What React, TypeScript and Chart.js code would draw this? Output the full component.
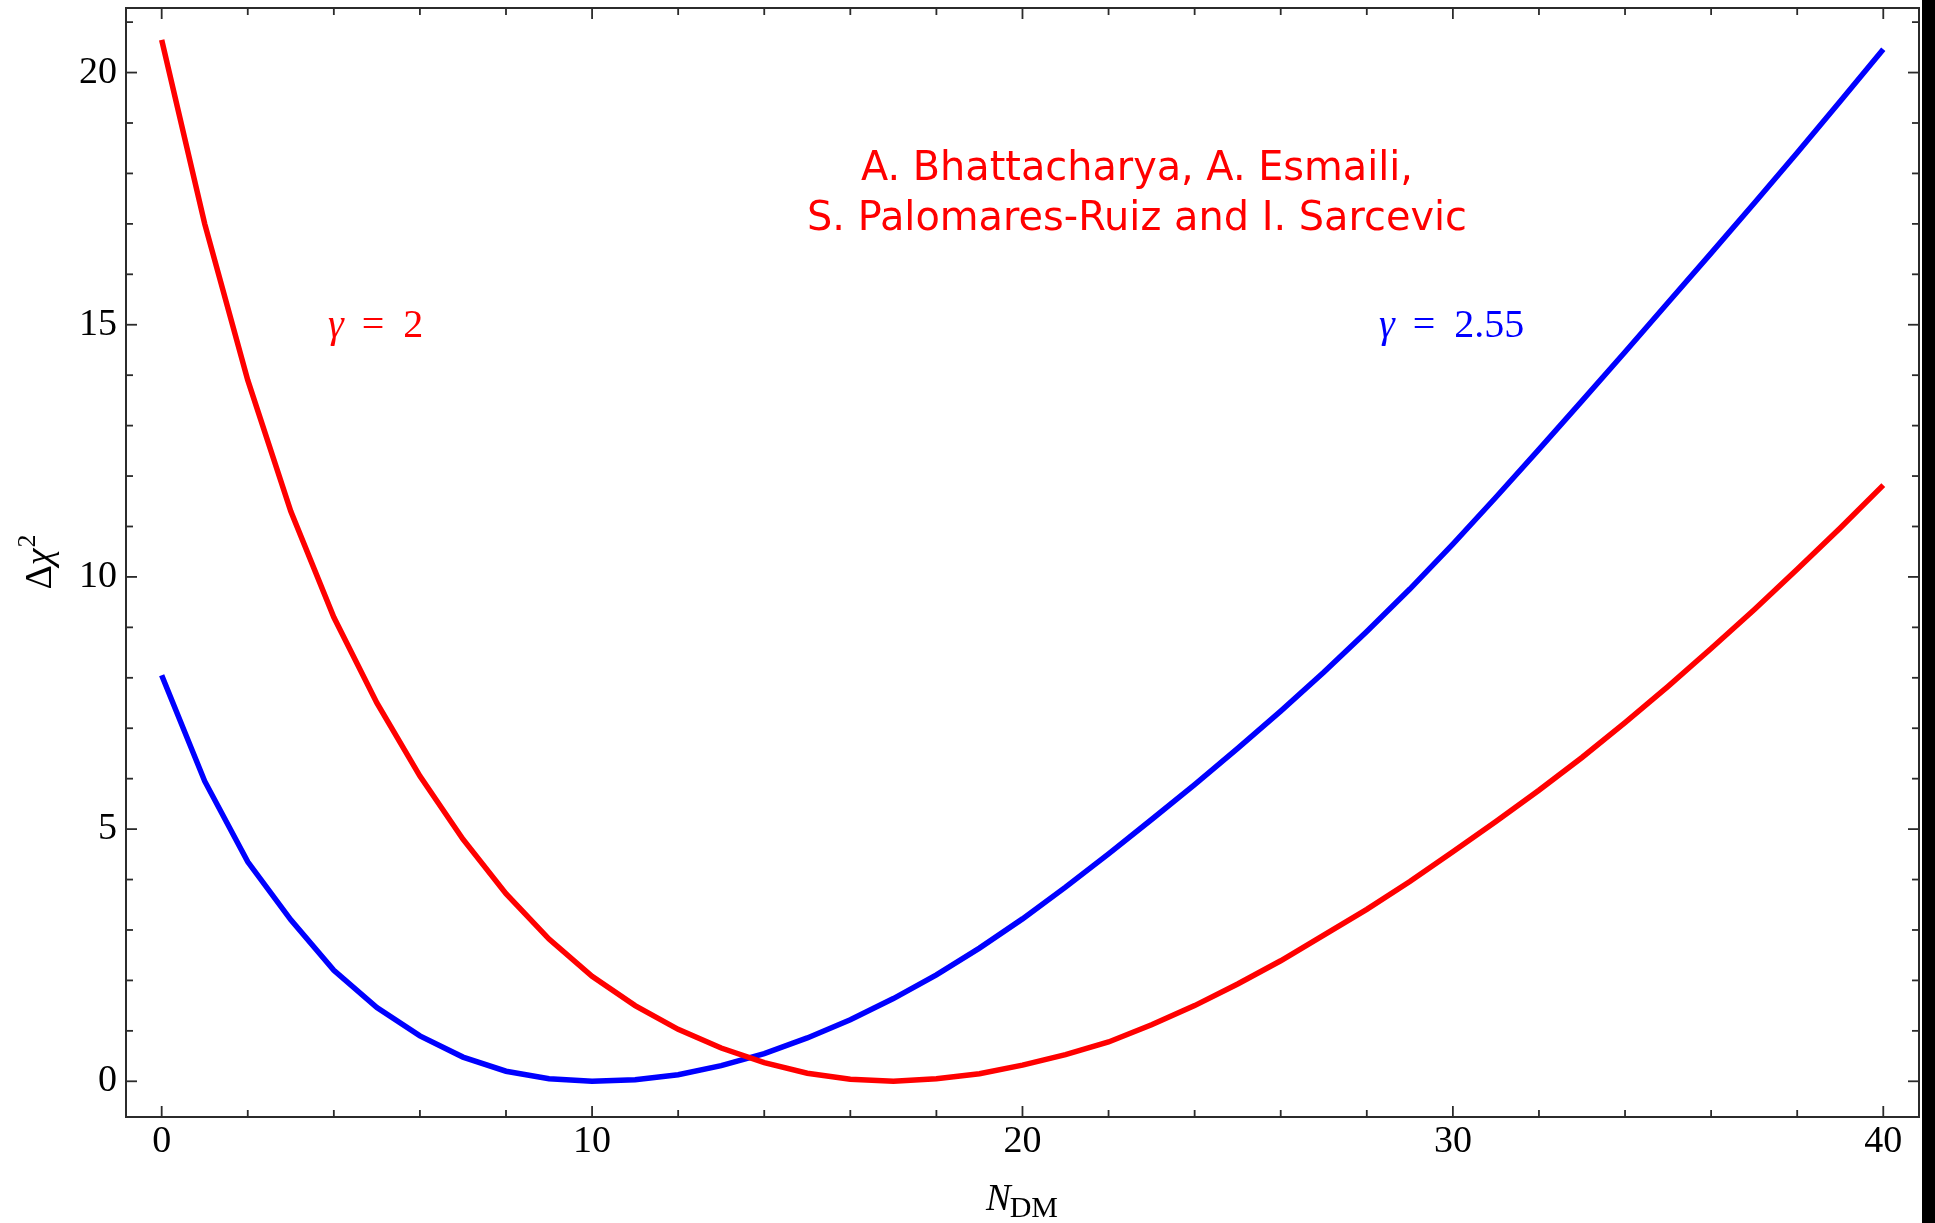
import { useEffect, useRef } from "react";
import { Chart, registerables } from "chart.js";

Chart.register(...registerables);

// Number of dark-matter events
const nDM = [
  0, 1, 2, 3, 4, 5, 6, 7, 8, 9, 10, 11, 12, 13, 14, 15, 16, 17, 18, 19, 20,
  21, 22, 23, 24, 25, 26, 27, 28, 29, 30, 31, 32, 33, 34, 35, 36, 37, 38, 39, 40,
];

// Δχ² for spectral index γ = 2
const chi2Gamma2 = [
  20.65, 17.0, 13.9, 11.3, 9.2, 7.5, 6.05, 4.8, 3.72, 2.82, 2.08, 1.5, 1.03,
  0.66, 0.37, 0.16, 0.04, 0.0, 0.05, 0.15, 0.32, 0.53, 0.78, 1.12, 1.5, 1.93,
  2.39, 2.9, 3.41, 3.96, 4.55, 5.15, 5.77, 6.42, 7.11, 7.83, 8.58, 9.35, 10.15,
  10.97, 11.82,
];

// Δχ² for spectral index γ = 2.55
const chi2Gamma255 = [
  8.05, 5.95, 4.35, 3.2, 2.2, 1.46, 0.9, 0.48, 0.2, 0.05, 0.0, 0.03, 0.13, 0.31,
  0.55, 0.86, 1.22, 1.64, 2.11, 2.64, 3.22, 3.85, 4.51, 5.19, 5.88, 6.6, 7.34,
  8.11, 8.92, 9.76, 10.65, 11.58, 12.53, 13.49, 14.46, 15.44, 16.42, 17.41,
  18.41, 19.43, 20.46,
];

const xTickLabels = [0, 10, 20, 30, 40];
const yTickLabels = [0, 5, 10, 15, 20];
const authorLines = ["A. Bhattacharya, A. Esmaili,", "S. Palomares-Ruiz and I. Sarcevic"];
const gammaValues = ["2", "2.55"];

const RED = "#ff0000";
const BLUE = "#0000ff";
const SERIF = '"Liberation Serif"';
const HAND = '"DejaVu Sans"';

const framePlugin = {
  id: "mmaFrame",
  afterDraw(chart: any) {
    const { ctx, chartArea: a, scales } = chart;
    const xs = scales.x;
    const ys = scales.y;
    ctx.save();

    // frame
    ctx.strokeStyle = "#2b2b2b";
    ctx.lineWidth = 2;
    ctx.strokeRect(a.left, a.top, a.right - a.left, a.bottom - a.top);

    const seg = (x1: number, y1: number, x2: number, y2: number) => {
      ctx.beginPath();
      ctx.moveTo(x1, y1);
      ctx.lineTo(x2, y2);
      ctx.stroke();
    };

    // ticks on all four sides, pointing inward
    ctx.lineWidth = 1.8;
    for (let n = 0; n <= 40; n += 2) {
      const px = xs.getPixelForValue(n);
      const len = xTickLabels.includes(n) ? 11 : 7;
      seg(px, a.bottom, px, a.bottom - len);
      seg(px, a.top, px, a.top + len);
    }
    for (let v = 0; v <= 21; v += 1) {
      const py = ys.getPixelForValue(v);
      const len = yTickLabels.includes(v) ? 11 : 7;
      seg(a.left, py, a.left + len, py);
      seg(a.right, py, a.right - len, py);
    }

    // x-axis title: N_DM
    ctx.fillStyle = "#000";
    ctx.textBaseline = "alphabetic";
    ctx.textAlign = "left";
    ctx.font = `italic 37px ${SERIF}`;
    const wN = ctx.measureText("N").width;
    ctx.font = `30px ${SERIF}`;
    const wDM = ctx.measureText("DM").width;
    const cx = (a.left + a.right) / 2;
    const x0 = cx - (wN + wDM) / 2;
    ctx.font = `italic 37px ${SERIF}`;
    ctx.fillText("N", x0, 1210);
    ctx.font = `30px ${SERIF}`;
    ctx.fillText("DM", x0 + wN - 1, 1217);

    // y-axis title: Δχ²
    ctx.save();
    ctx.translate(51, (a.top + a.bottom) / 2);
    ctx.rotate(-Math.PI / 2);
    ctx.font = `38px ${SERIF}`;
    const wD = ctx.measureText("Δ").width;
    ctx.font = `italic 38px ${SERIF}`;
    const wC = ctx.measureText("χ").width;
    ctx.font = `26px ${SERIF}`;
    const w2 = ctx.measureText("2").width;
    const t = -(wD + wC + w2) / 2;
    ctx.font = `38px ${SERIF}`;
    ctx.fillText("Δ", t, 0);
    ctx.font = `italic 38px ${SERIF}`;
    ctx.fillText("χ", t + wD, 0);
    ctx.font = `26px ${SERIF}`;
    ctx.fillText("2", t + wD + wC + 1, -16);
    ctx.restore();

    // curve labels: italic γ, wide-spaced "=" and the value
    const gammaLabel = (text: string, x: number, y: number, color: string) => {
      ctx.fillStyle = color;
      ctx.font = `italic 40px ${SERIF}`;
      ctx.fillText("γ", x, y);
      let px = x + ctx.measureText("γ").width + 18;
      ctx.font = `40px ${SERIF}`;
      ctx.fillText("=", px, y);
      px += ctx.measureText("=").width + 19;
      ctx.fillText(text, px, y);
    };
    gammaLabel(gammaValues[0], 328, 337, RED);
    gammaLabel(gammaValues[1], 1379, 337, BLUE);

    // author credit
    ctx.fillStyle = RED;
    ctx.font = `41px ${HAND}`;
    ctx.textAlign = "center";
    const targets = [552, 660];
    const baselines = [180, 230];
    authorLines.forEach((line, i) => {
      const w = ctx.measureText(line).width;
      const sx = targets[i] / w;
      ctx.save();
      ctx.translate(1137, baselines[i]);
      ctx.scale(sx, 1);
      ctx.fillText(line, 0, 0);
      ctx.restore();
    });

    // dark strip along the right edge
    ctx.fillStyle = "#000";
    ctx.fillRect(1922, 0, chart.width - 1922, chart.height);

    ctx.restore();
  },
};

export default function App() {
  const canvasRef = useRef<HTMLCanvasElement | null>(null);

  useEffect(() => {
    const canvas = canvasRef.current;
    if (!canvas) return;
    let chart: Chart | null = null;
    let cancelled = false;

    const build = () => {
      if (cancelled) return;
      chart = new Chart(canvas, {
        type: "line",
        data: {
          datasets: [
            {
              label: "γ = 2",
              data: nDM.map((n, i) => ({ x: n, y: chi2Gamma2[i] })),
              borderColor: RED,
              borderWidth: 5.5,
              pointRadius: 0,
              tension: 0,
              fill: false,
            },
            {
              label: "γ = 2.55",
              data: nDM.map((n, i) => ({ x: n, y: chi2Gamma255[i] })),
              borderColor: BLUE,
              borderWidth: 5.5,
              pointRadius: 0,
              tension: 0,
              fill: false,
            },
          ],
        },
        options: {
          animation: false,
          responsive: false,
          devicePixelRatio: 1,
          layout: { padding: { top: 8, right: 16, left: 0, bottom: 0 } },
          plugins: {
            legend: { display: false },
            tooltip: { enabled: false },
          },
          scales: {
            x: {
              type: "linear",
              min: -0.829,
              max: 40.83,
              grid: { display: false, drawTicks: false },
              border: { display: false },
              afterBuildTicks: (s: any) => {
                s.ticks = xTickLabels.map((v) => ({ value: v }));
              },
              afterFit: (s: any) => {
                s.height = 106;
                s.paddingLeft = 0;
                s.paddingRight = 0;
              },
              ticks: {
                color: "#000",
                font: { family: "Liberation Serif", size: 38 },
                padding: 2,
                maxRotation: 0,
                autoSkip: false,
              },
            },
            y: {
              type: "linear",
              min: -0.708,
              max: 21.28,
              grid: { display: false, drawTicks: false },
              border: { display: false },
              afterBuildTicks: (s: any) => {
                s.ticks = yTickLabels.map((v) => ({ value: v }));
              },
              afterFit: (s: any) => {
                s.width = 126;
                s.paddingTop = 0;
                s.paddingBottom = 0;
              },
              ticks: {
                color: "#000",
                font: { family: "Liberation Serif", size: 38 },
                padding: 9,
                autoSkip: false,
              },
            },
          },
        },
        plugins: [framePlugin],
      });
    };

    const fontsReady = Promise.all([
      document.fonts.load('38px "Liberation Serif"', "0123456789Δχ=γ"),
      document.fonts.load('italic 38px "Liberation Serif"', "Nχγ"),
      document.fonts.load('41px "DejaVu Sans"', "A. Bhattacharya"),
    ]).catch(() => undefined);
    fontsReady.then(build);

    return () => {
      cancelled = true;
      if (chart) chart.destroy();
    };
  }, []);

  return (
    <div style={{ position: "absolute", left: 0, top: 0, width: 1935, height: 1223, background: "#fff" }}>
      <canvas ref={canvasRef} width={1935} height={1223} style={{ width: 1935, height: 1223, display: "block" }} />
    </div>
  );
}
